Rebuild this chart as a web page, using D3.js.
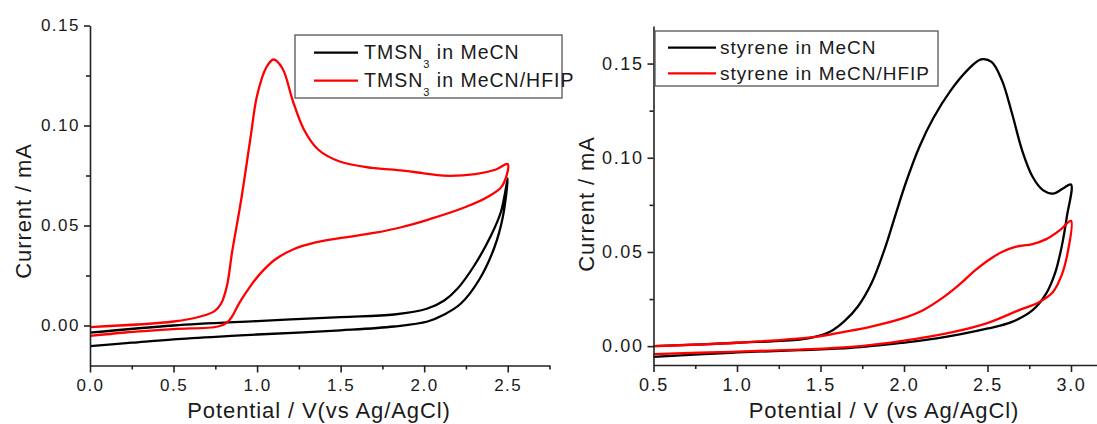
<!DOCTYPE html>
<html>
<head>
<meta charset="utf-8">
<script src="https://cdn.jsdelivr.net/npm/d3@7"></script>
<style>
  html, body { margin: 0; padding: 0; background: #fff; }
  svg { display: block; font-family: "Liberation Sans", Arial, sans-serif; }
</style>
</head>
<body>
<svg id="chart" width="1097" height="424"></svg>
<script>
// Cyclic voltammograms: [potential (V vs Ag/AgCl), current (mA)]
// Left panel: TMSN3, forward sweep 0 -> 2.5 V then back
const tmsnMeCN = [
  [0.00, -0.0103], [0.25, -0.0086], [0.50, -0.0069], [0.82, -0.0053], [1.00, -0.0045],
  [1.50, -0.0024], [1.82, -0.0005], [2.02, 0.0020], [2.12, 0.0055], [2.22, 0.0110],
  [2.33, 0.0230], [2.42, 0.0390], [2.47, 0.0540], [2.50, 0.0735],
  [2.46, 0.0570], [2.40, 0.0450], [2.30, 0.0300], [2.20, 0.0185], [2.12, 0.0125],
  [2.02, 0.0085], [1.82, 0.0055], [1.50, 0.0042], [1.00, 0.0022], [0.50, 0.0000],
  [0.00, -0.0036]
];
const tmsnHFIP = [
  [0.00, -0.0008], [0.50, 0.0020], [0.66, 0.0045], [0.745, 0.0072], [0.785, 0.0110],
  [0.82, 0.0200], [0.85, 0.0365], [0.905, 0.0630], [0.96, 0.0935], [1.00, 0.1150],
  [1.055, 0.1290], [1.098, 0.1330], [1.152, 0.1285], [1.215, 0.1120], [1.28, 0.0980],
  [1.365, 0.0880], [1.494, 0.0820], [1.686, 0.0788], [1.815, 0.0779], [1.99, 0.0762],
  [2.114, 0.0749], [2.306, 0.0757], [2.43, 0.0780], [2.50, 0.0807],
  [2.467, 0.0698], [2.39, 0.0648], [2.24, 0.0590], [2.03, 0.0531], [1.857, 0.0490],
  [1.708, 0.0464], [1.515, 0.0439], [1.344, 0.0414], [1.215, 0.0380], [1.108, 0.0330],
  [1.023, 0.0263], [0.959, 0.0196], [0.894, 0.0113], [0.85, 0.0045], [0.82, 0.0015],
  [0.766, -0.0005], [0.50, -0.0018], [0.21, -0.0035], [0.00, -0.0052]
];

// Right panel: styrene, forward sweep 0.5 -> 3.0 V then back
const styreneMeCN = [
  [0.50, 0.0000], [1.00, 0.0018], [1.375, 0.0035], [1.467, 0.0049], [1.56, 0.0078],
  [1.64, 0.0130], [1.725, 0.0212], [1.806, 0.0335], [1.886, 0.0520], [1.95, 0.0700],
  [2.012, 0.0870], [2.093, 0.1060], [2.175, 0.1210], [2.278, 0.1355], [2.38, 0.1465],
  [2.461, 0.1522], [2.524, 0.1509], [2.586, 0.1412], [2.647, 0.1235], [2.707, 0.1040],
  [2.77, 0.0899], [2.832, 0.0828], [2.892, 0.0810], [2.952, 0.0837], [3.00, 0.0858],
  [2.975, 0.0686], [2.944, 0.0527], [2.904, 0.0386], [2.852, 0.0280], [2.77, 0.0191],
  [2.647, 0.0129], [2.503, 0.0094], [2.196, 0.0041], [1.99, 0.0018], [1.683, -0.0009],
  [1.375, -0.0021], [0.964, -0.0035], [0.50, -0.0057]
];
const styreneHFIP = [
  [0.50, 0.0000], [1.00, 0.0018], [1.467, 0.0049], [1.64, 0.0076], [1.785, 0.0100],
  [1.99, 0.0147], [2.114, 0.0191], [2.237, 0.0260], [2.34, 0.0333], [2.422, 0.0400],
  [2.503, 0.0455], [2.586, 0.0500], [2.667, 0.0527], [2.77, 0.0542], [2.852, 0.0568],
  [2.934, 0.0616], [3.00, 0.0665],
  [2.979, 0.0492], [2.944, 0.0377], [2.892, 0.0288], [2.811, 0.0235], [2.689, 0.0191],
  [2.503, 0.0124], [2.298, 0.0076], [1.99, 0.0028], [1.683, -0.0004], [1.375, -0.0018],
  [0.964, -0.0030], [0.50, -0.0042]
];

const leftXTicks = [0.0, 0.5, 1.0, 1.5, 2.0, 2.5];
const leftYTicks = [0.00, 0.05, 0.10, 0.15];
const rightXTicks = [0.5, 1.0, 1.5, 2.0, 2.5, 3.0];
const rightYTicks = [0.00, 0.05, 0.10, 0.15];
const leftXMinor = [0.25, 0.75, 1.25, 1.75, 2.25, 2.75];
const leftYMinor = [0.025, 0.075, 0.125];
const rightXMinor = [0.75, 1.25, 1.75, 2.25, 2.75];
const rightYMinor = [0.025, 0.075, 0.125];

const leftLegend = [
  { name: "TMSN", sub: "3", tail: " in MeCN", color: "#000000" },
  { name: "TMSN", sub: "3", tail: " in MeCN/HFIP", color: "#ff0000" }
];
const rightLegend = [
  { name: "styrene in MeCN", color: "#000000" },
  { name: "styrene in MeCN/HFIP", color: "#ff0000" }
];

const svg = d3.select("#chart");
const AXIS = "#222";
const TEXT = "#1a1a1a";

function panel(cfg) {
  const g = svg.append("g");
  const x = d3.scaleLinear().domain(cfg.xDomain).range(cfg.xRange);
  const y = d3.scaleLinear().domain(cfg.yDomain).range(cfg.yRange);

  // curves
  const line = d3.line()
    .x(d => x(d[0])).y(d => y(d[1]))
    .curve(d3.curveCatmullRom.alpha(0.5));
  cfg.series.forEach(s => {
    g.append("path").datum(s.data)
      .attr("d", line)
      .attr("fill", "none")
      .attr("stroke", s.color)
      .attr("stroke-width", 2.3)
      .attr("stroke-linejoin", "round");
  });

  // minor ticks
  const xMinor = g.append("g").attr("transform", `translate(0,${cfg.yRange[0]})`)
    .call(d3.axisBottom(x).tickValues(cfg.xMinor).tickSize(4).tickSizeOuter(0).tickFormat(""));
  const yMinor = g.append("g").attr("transform", `translate(${cfg.xRange[0]},0)`)
    .call(d3.axisLeft(y).tickValues(cfg.yMinor).tickSize(4).tickSizeOuter(0).tickFormat(""));
  [xMinor, yMinor].forEach(a => a.select(".domain").remove());

  // major axes
  const xAxis = g.append("g").attr("transform", `translate(0,${cfg.yRange[0]})`)
    .call(d3.axisBottom(x).tickValues(cfg.xTicks).tickSize(7).tickSizeOuter(0)
      .tickPadding(6).tickFormat(d3.format(".1f")));
  const yAxis = g.append("g").attr("transform", `translate(${cfg.xRange[0]},0)`)
    .call(d3.axisLeft(y).tickValues(cfg.yTicks).tickSize(6).tickSizeOuter(0)
      .tickPadding(4).tickFormat(d3.format(".2f")));

  [xAxis, yAxis, xMinor, yMinor].forEach(a => {
    a.selectAll("line").attr("stroke", AXIS).attr("stroke-width", 1.6);
    a.selectAll(".domain").attr("stroke", AXIS).attr("stroke-width", 1.6);
    a.selectAll("text")
      .attr("fill", TEXT)
      .style("font-family", "'Liberation Sans', Arial, sans-serif")
      .style("font-size", cfg.tickFont + "px")
      .style("letter-spacing", cfg.tickSpacing + "px");
  });

  // axis titles
  g.append("text")
    .attr("x", cfg.xTitlePos[0]).attr("y", cfg.xTitlePos[1])
    .attr("text-anchor", "middle")
    .attr("fill", TEXT)
    .style("font-size", "22px").style("letter-spacing", "0.9px")
    .text(cfg.xTitle);
  g.append("text")
    .attr("transform", `translate(${cfg.yTitlePos[0]},${cfg.yTitlePos[1]}) rotate(-90)`)
    .attr("text-anchor", "middle")
    .attr("dy", "0.35em")
    .attr("fill", TEXT)
    .style("font-size", "22px").style("letter-spacing", "0.9px")
    .text("Current / mA");

  // legend
  const L = cfg.legend;
  const lg = g.append("g");
  lg.append("rect")
    .attr("x", L.box[0]).attr("y", L.box[1])
    .attr("width", L.box[2] - L.box[0]).attr("height", L.box[3] - L.box[1])
    .attr("fill", "#fff").attr("stroke", "#555").attr("stroke-width", 1.3);
  L.items.forEach((it, i) => {
    const ly = L.rowY[i];
    lg.append("line")
      .attr("x1", L.lineX[0]).attr("x2", L.lineX[1])
      .attr("y1", ly).attr("y2", ly)
      .attr("stroke", it.color).attr("stroke-width", 2.3);
    const t = lg.append("text")
      .attr("x", L.textX).attr("y", ly + L.baseOff)
      .attr("fill", TEXT)
      .style("font-size", L.font + "px")
      .style("letter-spacing", L.spacing + "px");
    t.append("tspan").text(it.name);
    if (it.sub) {
      t.append("tspan").attr("dy", 9).style("font-size", "11px").text(it.sub);
      t.append("tspan").attr("dy", -9).text(it.tail);
    }
  });
}

panel({
  xDomain: [0, 2.75], xRange: [90, 549.5],
  yDomain: [-0.02, 0.15], yRange: [365.5, 25.5],
  xTicks: leftXTicks, yTicks: leftYTicks, xMinor: leftXMinor, yMinor: leftYMinor,
  tickFont: 17, tickSpacing: 1.5,
  series: [
    { data: tmsnMeCN, color: "#000000" },
    { data: tmsnHFIP, color: "#ff0000" }
  ],
  xTitle: "Potential / V(vs Ag/AgCl)", xTitlePos: [319, 418],
  yTitlePos: [23, 211],
  legend: {
    box: [295, 35, 562, 98], lineX: [314, 358], rowY: [52.7, 80.7], textX: 364,
    baseOff: 6, font: 19.5, spacing: 1.0, items: leftLegend
  }
});

panel({
  xDomain: [0.5, 3.2], xRange: [653.5, 653.5 + 2.7 * 167],
  yDomain: [-0.01, 0.17], yRange: [365, 365 - 0.18 * 1884],
  xTicks: rightXTicks, yTicks: rightYTicks, xMinor: rightXMinor, yMinor: rightYMinor,
  tickFont: 18, tickSpacing: 1.6,
  series: [
    { data: styreneMeCN, color: "#000000" },
    { data: styreneHFIP, color: "#ff0000" }
  ],
  xTitle: "Potential / V (vs Ag/AgCl)", xTitlePos: [884, 418],
  yTitlePos: [586, 204],
  legend: {
    box: [655, 31, 938, 86], lineX: [668, 716], rowY: [47.7, 73.3], textX: 720,
    baseOff: 6.5, font: 19, spacing: 1.0, items: rightLegend
  }
});
</script>
</body>
</html>
